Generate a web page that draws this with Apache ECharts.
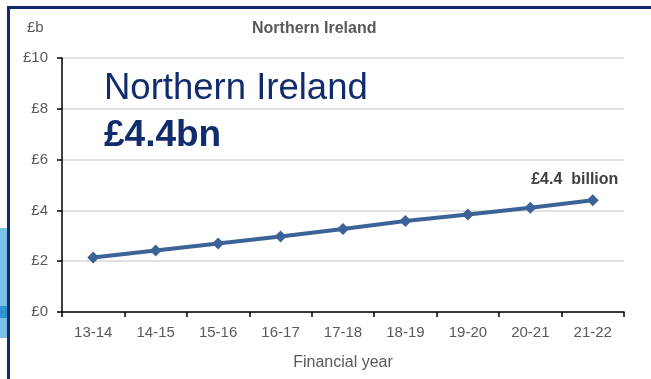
<!DOCTYPE html>
<html>
<head>
<meta charset="utf-8">
<script src="https://cdn.jsdelivr.net/npm/echarts@6/dist/echarts.min.js"></script>
<style>
  html, body { margin: 0; padding: 0; background: #ffffff; }
  #chart { width: 651px; height: 379px; }
</style>
</head>
<body>
<div id="chart"></div>
<script>
// Financial years and spending (£ billion) for Northern Ireland
const years = ['13-14', '14-15', '15-16', '16-17', '17-18', '18-19', '19-20', '20-21', '21-22'];
const spending = [2.15, 2.42, 2.7, 2.97, 3.27, 3.58, 3.84, 4.1, 4.4];
const yTicks = [0, 2, 4, 6, 8, 10];

const axisGrey = '#595959';
const navy = '#102c6c';
const lineBlue = '#3c6398';
const font = 'Liberation Sans, Arial, sans-serif';

const chart = echarts.init(document.getElementById('chart'), null, { renderer: 'canvas' });

const seriesData = spending.map((v, i) => i === spending.length - 1
  ? {
      value: v,
      label: {
        show: true,
        position: 'top',
        offset: [-18, -2],
        formatter: p => '£' + p.value + '  billion',
        fontFamily: font,
        fontWeight: 'bold',
        fontSize: 16,
        color: '#404040'
      }
    }
  : v);

chart.setOption({
  backgroundColor: '#ffffff',
  animation: false,
  grid: { left: 62, right: 27, top: 58, bottom: 67 },
  xAxis: {
    type: 'category',
    data: years,
    boundaryGap: true,
    name: 'Financial year',
    nameLocation: 'middle',
    nameGap: 43,
    nameTextStyle: { color: axisGrey, fontSize: 16, fontFamily: font },
    axisLine: { lineStyle: { color: '#000000', width: 1.5 } },
    axisTick: { show: true, length: 5, inside: false, alignWithLabel: false, lineStyle: { color: '#000000', width: 1.5 } },
    axisLabel: { color: axisGrey, fontSize: 15, margin: 13, fontFamily: font }
  },
  yAxis: {
    type: 'value',
    min: yTicks[0],
    max: yTicks[yTicks.length - 1],
    interval: yTicks[1] - yTicks[0],
    axisLine: { show: true, lineStyle: { color: '#000000', width: 1.5 } },
    axisTick: { show: true, length: 5, lineStyle: { color: '#000000', width: 1.5 } },
    axisLabel: { color: axisGrey, fontSize: 15, margin: 14, formatter: v => '£' + v, fontFamily: font },
    splitLine: { show: true, lineStyle: { color: '#d9d9d9', width: 1.5 } }
  },
  series: [{
    type: 'line',
    data: seriesData,
    symbol: 'diamond',
    symbolSize: 12,
    lineStyle: { color: lineBlue, width: 4 },
    itemStyle: { color: lineBlue },
    z: 5
  }],
  graphic: [
    // decorative blue shape at the left edge
    { type: 'rect', shape: { x: 0, y: 228, width: 7, height: 110 }, style: { fill: '#7cc2e8' }, z: 1 },
    { type: 'rect', shape: { x: 0, y: 306, width: 7, height: 12 }, style: { fill: '#2f93d4' }, z: 2 },
    // frame
    { type: 'rect', shape: { x: 7, y: 6, width: 3, height: 373 }, style: { fill: navy }, z: 3 },
    { type: 'rect', shape: { x: 7, y: 6, width: 644, height: 3 }, style: { fill: navy }, z: 3 },
    // unit label
    { type: 'text', left: 27, top: 20, style: { text: '£b', fill: axisGrey, fontSize: 15, fontFamily: font } },
    // chart title
    { type: 'text', left: 252, top: 21, style: { text: 'Northern Ireland', fill: axisGrey, fontSize: 16, fontWeight: 'bold', fontFamily: font } },
    // headline overlay
    { type: 'text', left: 104, top: 70, style: { text: 'Northern Ireland', fill: navy, fontSize: 36.5, fontFamily: font }, z: 10 },
    { type: 'text', left: 104, top: 117, style: { text: '£4.4bn', fill: navy, fontSize: 37, fontWeight: 'bold', fontFamily: font }, z: 10 }
  ]
});
</script>
</body>
</html>
